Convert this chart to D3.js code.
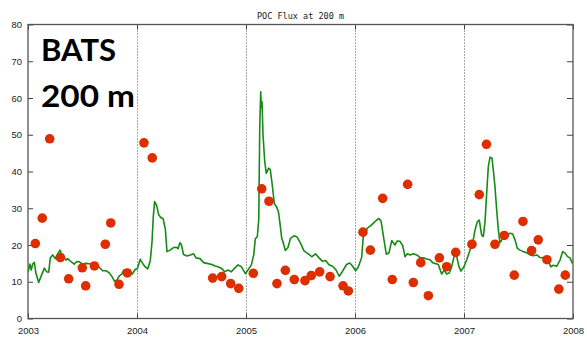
<!DOCTYPE html>
<html><head><meta charset="utf-8">
<script src="https://cdn.jsdelivr.net/npm/d3@7"></script>
<style>html,body{margin:0;padding:0;background:#fff;} svg{display:block;}</style>
</head><body>
<script>
// ---- DATA ----
const titleText = "POC Flux at 200 m";
const labelLines = ["BATS", "200 m"];
const xTicks = [2003, 2004, 2005, 2006, 2007, 2008];
const yTicks = [0, 10, 20, 30, 40, 50, 60, 70, 80];

// model flux line (decimal year, value)
const lineYears = [2003.000,2003.018,2003.030,2003.043,2003.058,2003.073,2003.098,2003.119,2003.150,2003.172,2003.190,2003.205,2003.227,2003.250,2003.272,2003.294,2003.307,2003.324,2003.349,2003.364,2003.394,2003.425,2003.447,2003.471,2003.502,2003.532,2003.562,2003.594,2003.624,2003.649,2003.685,2003.716,2003.746,2003.771,2003.795,2003.814,2003.838,2003.860,2003.878,2003.890,2003.908,2003.929,2003.957,2003.984,2004.003,2004.030,2004.052,2004.073,2004.098,2004.122,2004.138,2004.150,2004.162,2004.181,2004.199,2004.220,2004.239,2004.260,2004.275,2004.303,2004.335,2004.362,2004.376,2004.394,2004.408,2004.427,2004.459,2004.489,2004.520,2004.541,2004.578,2004.612,2004.642,2004.688,2004.716,2004.743,2004.773,2004.805,2004.835,2004.865,2004.896,2004.927,2004.957,2004.994,2005.018,2005.049,2005.071,2005.085,2005.104,2005.117,2005.126,2005.135,2005.140,2005.147,2005.156,2005.172,2005.186,2005.208,2005.223,2005.239,2005.260,2005.282,2005.298,2005.309,2005.328,2005.339,2005.361,2005.385,2005.408,2005.440,2005.468,2005.500,2005.532,2005.572,2005.603,2005.638,2005.670,2005.700,2005.731,2005.761,2005.795,2005.826,2005.855,2005.885,2005.922,2005.952,2005.977,2006.006,2006.030,2006.061,2006.075,2006.113,2006.142,2006.174,2006.199,2006.220,2006.239,2006.266,2006.287,2006.312,2006.337,2006.367,2006.388,2006.413,2006.438,2006.459,2006.480,2006.505,2006.535,2006.566,2006.596,2006.627,2006.658,2006.688,2006.713,2006.734,2006.764,2006.795,2006.819,2006.841,2006.865,2006.887,2006.917,2006.933,2006.954,2006.972,2007.000,2007.025,2007.055,2007.080,2007.101,2007.122,2007.140,2007.162,2007.177,2007.193,2007.208,2007.223,2007.239,2007.257,2007.269,2007.284,2007.300,2007.315,2007.330,2007.355,2007.392,2007.422,2007.447,2007.468,2007.489,2007.514,2007.544,2007.575,2007.606,2007.636,2007.667,2007.697,2007.728,2007.750,2007.773,2007.795,2007.819,2007.850,2007.881,2007.905,2007.927,2007.948,2007.972,2007.997];
const lineValues = [12.6,14.8,13.2,14.8,15.3,12.3,9.8,11.4,13.7,12.7,12.6,16.5,17.3,16.3,17.5,18.6,17.4,16.8,15.9,16.3,15.5,14.8,15.5,15.4,14.8,15.0,14.9,14.6,14.2,14.1,13.0,13.0,12.4,11.4,10.1,10.4,11.6,12.1,13.2,13.2,12.6,12.3,12.1,13.4,13.5,16.1,15.0,14.1,13.5,15.7,21.0,28.0,31.8,30.7,28.2,27.4,27.2,24.3,18.2,18.6,19.3,19.4,19.0,20.6,20.0,17.4,17.0,17.3,17.6,16.5,16.3,15.2,15.0,14.7,14.3,14.1,13.7,12.7,13.2,12.7,13.7,14.6,14.1,12.2,13.2,14.6,17.3,21.6,22.3,27.0,51.8,61.7,57.5,59.0,50.0,42.7,39.5,40.9,40.5,36.8,31.3,30.3,29.0,26.5,21.8,20.9,18.5,19.3,21.8,22.5,22.2,20.5,18.4,17.6,16.8,17.6,16.5,15.6,15.8,14.6,14.2,13.2,11.5,12.8,14.7,15.1,14.3,13.0,14.0,16.6,22.0,24.6,25.2,26.1,26.8,27.2,26.5,21.4,17.5,17.9,21.2,20.0,21.1,21.0,19.8,16.8,17.6,17.3,17.6,17.3,16.6,16.5,16.2,16.0,15.2,15.0,14.7,12.1,13.2,12.1,12.4,14.1,17.9,16.9,14.1,12.9,14.1,16.0,18.6,20.5,24.1,26.3,26.8,22.7,22.3,26.3,34.1,41.3,43.9,43.6,40.4,35.9,29.5,24.1,20.6,21.8,22.7,23.2,23.0,21.4,19.1,18.6,18.2,17.9,17.3,17.1,17.3,16.6,16.5,15.7,15.9,14.1,14.5,14.2,15.9,18.2,17.8,16.9,16.5,14.9];

// sediment trap observations (decimal year, value)
const trapYears = [2003.067,2003.131,2003.199,2003.297,2003.373,2003.498,2003.529,2003.609,2003.709,2003.759,2003.835,2003.911,2004.064,2004.140,2004.694,2004.777,2004.859,2004.933,2005.067,2005.144,2005.211,2005.284,2005.361,2005.443,2005.541,2005.599,2005.676,2005.771,2005.890,2005.939,2006.073,2006.141,2006.254,2006.342,2006.483,2006.535,2006.603,2006.673,2006.774,2006.841,2006.924,2007.073,2007.140,2007.206,2007.284,2007.369,2007.461,2007.541,2007.620,2007.681,2007.761,2007.870,2007.929];
const trapValues = [20.4,27.3,48.9,16.6,10.8,13.8,8.9,14.3,20.2,26.0,9.3,12.4,47.8,43.7,11.0,11.4,9.5,8.2,12.3,35.3,31.9,9.5,13.1,10.6,10.3,11.7,12.7,11.4,8.9,7.5,23.5,18.6,32.7,10.6,36.5,9.8,15.2,6.2,16.5,14.1,18.0,20.2,33.7,47.4,20.2,22.6,11.8,26.4,18.5,21.4,16.0,8.0,11.8];

// ---- CHART ----
const W = 587, H = 338;
const m = {left: 28, right: 14, top: 24.5, bottom: 19.5};
const iw = W - m.left - m.right, ih = H - m.top - m.bottom;

const svg = d3.select("body").append("svg").attr("width", W).attr("height", H);

const x = d3.scaleLinear().domain([2003, 2008]).range([m.left, m.left + iw]);
const y = d3.scaleLinear().domain([0, 80]).range([m.top + ih, m.top]);

svg.append("defs").append("clipPath").attr("id", "clip")
  .append("rect").attr("x", m.left).attr("y", m.top).attr("width", iw).attr("height", ih);

// vertical dotted grid
svg.append("g").selectAll("line").data(xTicks.slice(1, -1)).join("line")
  .attr("x1", d => Math.round(x(d)) + 0.5).attr("x2", d => Math.round(x(d)) + 0.5)
  .attr("y1", m.top).attr("y2", m.top + ih)
  .attr("stroke", "#555").attr("stroke-width", 1).attr("stroke-dasharray", "1,2");

const fmt = d3.format("d");
const tickColor = "#444";
// bottom axis
const gx = svg.append("g").attr("transform", `translate(0,${m.top + ih})`)
  .call(d3.axisBottom(x).tickValues(xTicks).tickFormat(fmt).tickSize(-5).tickPadding(9));
// top axis ticks
const gxt = svg.append("g").attr("transform", `translate(0,${m.top})`)
  .call(d3.axisTop(x).tickValues(xTicks).tickFormat("").tickSize(-5));
// left axis
const gy = svg.append("g").attr("transform", `translate(${m.left},0)`)
  .call(d3.axisLeft(y).tickValues(yTicks).tickFormat(fmt).tickSize(-5).tickPadding(6));
// right axis ticks
const gyr = svg.append("g").attr("transform", `translate(${m.left + iw},0)`)
  .call(d3.axisRight(y).tickValues(yTicks).tickFormat("").tickSize(-6));

[gx, gxt, gy, gyr].forEach(g => {
  g.select(".domain").remove();
  g.selectAll(".tick line").attr("stroke", tickColor);
  g.selectAll("text").attr("fill", "#222").style("font-family", "'Liberation Sans', Arial, sans-serif").style("font-size", "9.5px");
});

// frame
svg.append("rect").attr("x", m.left).attr("y", m.top).attr("width", iw).attr("height", ih)
  .attr("fill", "none").attr("stroke", "#555").attr("stroke-width", 1.3);

// model line
const lineData = lineYears.map((t, i) => ({t, v: lineValues[i]}));
svg.append("path").datum(lineData).attr("clip-path", "url(#clip)")
  .attr("fill", "none").attr("stroke", "#168a16").attr("stroke-width", 1.6)
  .attr("stroke-linejoin", "round")
  .attr("d", d3.line().x(d => x(d.t)).y(d => y(d.v)));

// trap points
const trapData = trapYears.map((t, i) => ({t, v: trapValues[i]}));
svg.append("g").selectAll("circle").data(trapData).join("circle")
  .attr("cx", d => x(d.t)).attr("cy", d => y(d.v)).attr("r", 4.8)
  .attr("fill", "#dd2e00");

// title
svg.append("text").attr("x", x(2005.5)).attr("y", 19).attr("text-anchor", "middle")
  .style("font-family", "'DejaVu Sans Mono', monospace").style("font-size", "8.5px")
  .attr("fill", "#222").text(titleText);

// station label
svg.append("text").attr("x", 41).attr("y", 60.5)
  .style("font-family", "Lato, 'Open Sans', sans-serif").style("font-weight", "700").style("font-size", "31px")
  .attr("fill", "#000").text(labelLines[0]);
svg.append("text").attr("x", 41).attr("y", 107)
  .attr("textLength", 94).attr("lengthAdjust", "spacingAndGlyphs")
  .style("font-family", "Lato, 'Open Sans', sans-serif").style("font-weight", "700").style("font-size", "31px")
  .attr("fill", "#000").text(labelLines[1]);
</script>
</body></html>
